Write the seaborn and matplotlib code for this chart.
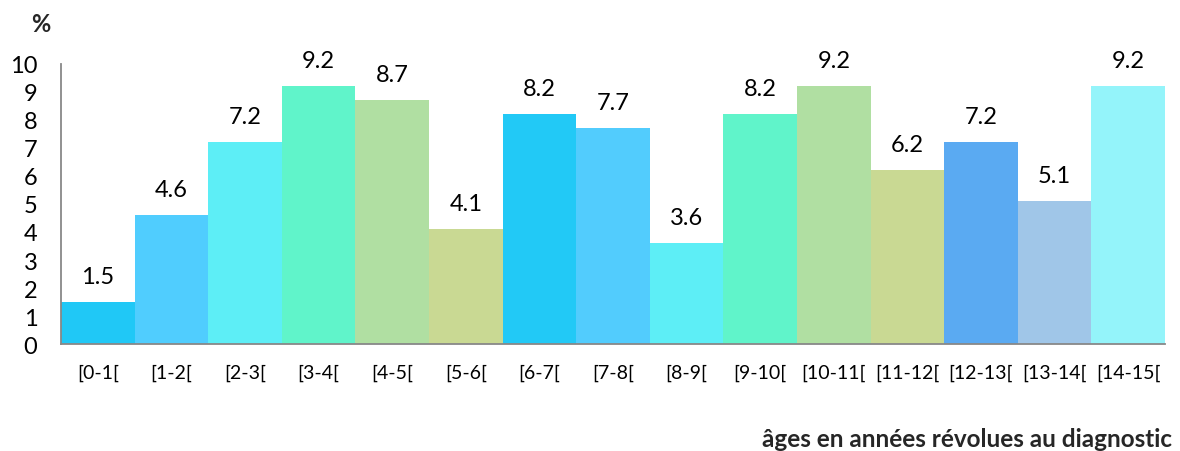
import matplotlib
matplotlib.use("Agg")
import matplotlib.pyplot as plt
import seaborn as sns
import pandas as pd
import numpy as np

categories = ["[0-1[", "[1-2[", "[2-3[", "[3-4[", "[4-5[", "[5-6[", "[6-7[", "[7-8[",
              "[8-9[", "[9-10[", "[10-11[", "[11-12[", "[12-13[", "[13-14[", "[14-15["]
values = [1.5, 4.6, 7.2, 9.2, 8.7, 4.1, 8.2, 7.7, 3.6, 8.2, 9.2, 6.2, 7.2, 5.1, 9.2]
colors = ["#20C8F6", "#50CDFE", "#5DEEF6", "#60F4CA", "#B0DFA2", "#C9D993",
          "#22C9F6", "#52CCFD", "#5DEEF6", "#60F4CA", "#B0DFA2", "#C9D993",
          "#5AAAF2", "#A0C6E8", "#94F4FA"]
y_ticks = list(range(0, 11))

sns.set_style("white")
plt.rcParams['font.family'] = ['Lato', 'DejaVu Sans']

df = pd.DataFrame({"cat": categories, "val": values})

fig = plt.figure(figsize=(11.8, 4.52), dpi=100)
ax = fig.add_axes([61/1180, 1-345/452, (1165-61)/1180, (345-65)/452])

sns.barplot(data=df, x="cat", y="val", hue="cat", palette=colors, legend=False,
            width=1.0, saturation=1.0, ax=ax, linewidth=0)

for cont in ax.containers:
    ax.bar_label(cont, fmt="%.1f", padding=11, fontsize=17, color="black")

ax.set_xlim(-0.5, len(categories) - 0.5)
ax.set_ylim(0, 10)
ax.set_yticks(y_ticks)
ax.set_yticklabels([str(t) for t in y_ticks], fontsize=17)
ax.set_xticks(range(len(categories)))
ax.set_xticklabels(categories, fontsize=14)
ax.set_xticks(np.arange(-0.5, len(categories)), minor=True)
ax.tick_params(axis="x", which="major", length=0, pad=14, labelcolor="black")
ax.tick_params(axis="x", which="minor", length=6, width=1.3, color="#888888")
ax.tick_params(axis="y", which="major", length=6, width=1.3, color="#888888", pad=11, labelcolor="black")

for s in ["top", "right"]:
    ax.spines[s].set_visible(False)
for s in ["left", "bottom"]:
    ax.spines[s].set_color("#888888")
    ax.spines[s].set_linewidth(1.3)

ax.set_xlabel("")
ax.set_ylabel("")
fig.text(41/1180, 1-25/452, "%", fontsize=17, fontweight="bold", ha="center", va="center")
fig.text(1172/1180, 1-440/452, "âges en années révolues au diagnostic", fontsize=17.5,
         fontweight="bold", ha="right", va="center")

fig.savefig("out.png", dpi=100)
